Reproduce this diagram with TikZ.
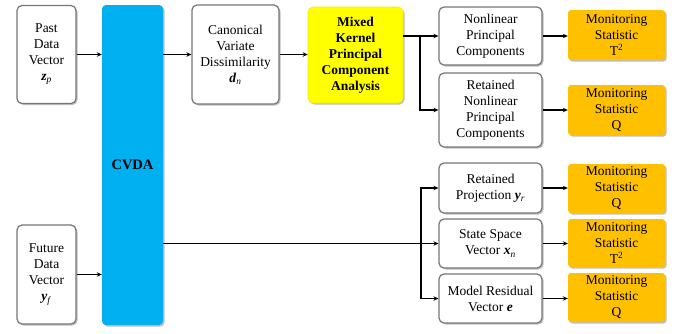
\documentclass[tikz,border=0pt]{standalone}
\usepackage{fontspec}
\setmainfont{Liberation Serif}
\usetikzlibrary{arrows.meta}
\usetikzlibrary{shadows}

\definecolor{cvdablue}{HTML}{00B0F0}
\definecolor{mkyellow}{HTML}{FFFF00}
\definecolor{monorange}{HTML}{FFC000}
\definecolor{boxgray}{HTML}{767676}

\newcommand{\bvec}[2]{\textbf{\textit{#1}}\textsubscript{\textit{#2}}}

\begin{document}
\begin{tikzpicture}[x=1pt, y=-1pt,
    txt/.style={align=center, inner sep=0pt, font=\fontsize{13.5}{16}\selectfont},
    shade/.style={drop shadow={shadow xshift=1.5pt, shadow yshift=-1.5pt, fill=black, opacity=0.25}},
    gbox/.style={txt, shade, draw=boxgray, line width=1.2pt, fill=white, rounded corners=5pt},
    monbox/.style={txt, shade, fill=monorange, rounded corners=3pt, minimum width=97pt},
    link/.style={line width=1.3pt, -{Stealth[length=5pt, width=4.5pt]}},
    trunk/.style={line width=1.3pt}]
    \useasboundingbox (0,0) rectangle (681,333);

    % inputs and CVDA
    \node[gbox, minimum width=59pt, minimum height=98pt] (past) at (46.5,54.5) {Past\\Data\\Vector\\\bvec{z}{p}};
    \node[gbox, minimum width=59pt, minimum height=99pt] (future) at (46.5,274.5) {Future\\Data\\Vector\\\bvec{y}{f}};
    \node[txt, shade, fill=cvdablue, rounded corners=4pt, minimum width=61pt, minimum height=320pt,
          font=\fontsize{14.5}{16}\selectfont\bfseries] (cvda) at (132.5,165) {CVDA};

    % upper branch
    \node[gbox, minimum width=87pt, minimum height=99pt] (canon) at (235.5,54.5) {Canonical\\Variate\\Dissimilarity\\\bvec{d}{n}};
    \node[txt, shade, fill=mkyellow, draw=mkyellow!80!orange, line width=0.6pt, rounded corners=5pt,
          minimum width=95pt, minimum height=96pt, font=\fontsize{13.5}{16}\selectfont\bfseries] (mkpca) at (355.5,55)
          {Mixed\\Kernel\\Principal\\Component\\Analysis};
    \node[gbox, minimum width=103pt, minimum height=58pt] (npc) at (490.5,36) {Nonlinear\\Principal\\Components};
    \node[gbox, minimum width=103pt, minimum height=74pt] (rnpc) at (490.5,110) {Retained\\Nonlinear\\Principal\\Components};
    \node[monbox, minimum height=50pt] (mon1) at (616.5,35) {Monitoring\\Statistic\\T\textsuperscript{2}};
    \node[monbox, minimum height=50pt] (mon2) at (616.5,110) {Monitoring\\Statistic\\Q};

    % lower branch
    \node[gbox, minimum width=103pt, minimum height=50pt] (rproj) at (490.5,188) {Retained\\Projection \bvec{y}{r}};
    \node[gbox, minimum width=103pt, minimum height=49pt] (ssv) at (490.5,243.5) {State Space\\Vector \bvec{x}{n}};
    \node[gbox, minimum width=103pt, minimum height=49pt] (mres) at (490.5,298.5) {Model Residual\\Vector \textbf{\textit{e}}};
    \node[monbox, minimum height=49pt] (mon3) at (616.5,188.5) {Monitoring\\Statistic\\Q};
    \node[monbox, minimum height=48pt] (mon4) at (616.5,243) {Monitoring\\Statistic\\T\textsuperscript{2}};
    \node[monbox, minimum height=49pt] (mon5) at (616.5,297.5) {Monitoring\\Statistic\\Q};

    \coordinate (split1) at (420,36);
    \coordinate (split2) at (421,243.5);

    \draw[link] (past.east) -- (cvda.west |- past.east);
    \draw[link] (future.east) -- (cvda.west |- future.east);
    \draw[link] (cvda.east |- canon.west) -- (canon.west);
    \draw[link] (canon.east) -- (mkpca.west |- canon.east);
    \draw[link] (mkpca.east |- npc.west) -- (npc.west);
    \draw[link] (split1) |- (rnpc.west);
    \draw[link] (cvda.east |- ssv.west) -- (ssv.west);
    \draw[trunk] (split2 |- rproj.west) -- (split2 |- mres.west);
    \draw[link] (split2) |- (rproj.west);
    \draw[link] (split2) |- (mres.west);
    \draw[link] (npc.east) -- (mon1.west |- npc.east);
    \draw[link] (rnpc.east) -- (mon2.west |- rnpc.east);
    \draw[link] (rproj.east) -- (mon3.west |- rproj.east);
    \draw[link] (ssv.east) -- (mon4.west |- ssv.east);
    \draw[link] (mres.east) -- (mon5.west |- mres.east);
\end{tikzpicture}
\end{document}
